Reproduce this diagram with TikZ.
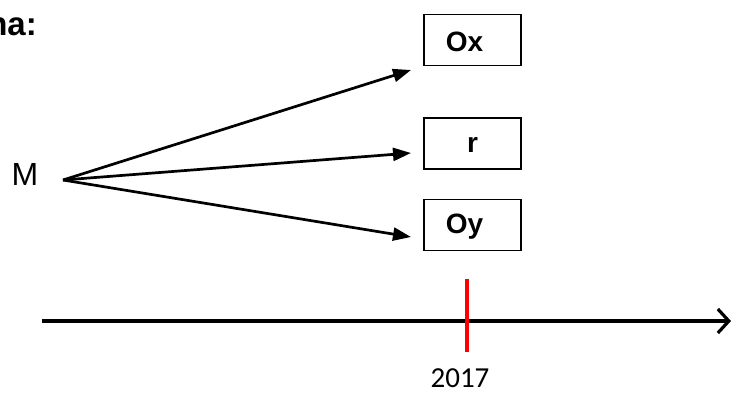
\documentclass[tikz,border=0pt]{standalone}
\usepackage{fontspec}
\setmainfont{Liberation Sans}
\newfontfamily\calib{Carlito}
\usetikzlibrary{arrows.meta}
\begin{document}
\begin{tikzpicture}[x=1pt,y=-1pt,
  lbl/.style={draw=black,line width=1.5pt,minimum width=97pt,minimum height=51pt,inner sep=0pt},
  lbltext/.style={inner sep=0pt,font=\fontsize{28}{30}\selectfont\bfseries},
  conn/.style={line width=2.7pt,-{Triangle[length=18pt,width=13pt]}},
  txt/.style={inner sep=0pt,font=\fontsize{32}{34}\selectfont}]
\useasboundingbox (0,0) rectangle (732,392);
\node[inner sep=0pt,font=\fontsize{33}{34}\selectfont\bfseries,anchor=east] (title) at (37,27) {na:};
\node[lbl] (ox) at (472.5,40) {};
\node[lbl] (r) at (472.5,143.5) {};
\node[lbl] (oy) at (472.5,225) {};
\node[lbltext] (oxt) at (464.5,42) {Ox};
\node[lbltext] (rt) at (472.5,145) {r};
\node[lbltext] (oyt) at (464.5,227) {Oy};
\node[txt] (m) at (25,174) {M};
\coordinate (mo) at (63,180);
\coordinate (t1) at (411,70);
\coordinate (t2) at (411,153);
\coordinate (t3) at (411,237);
\draw[conn] (mo) -- (t1);
\draw[conn] (mo) -- (t2);
\draw[conn] (mo) -- (t3);
\coordinate (ls) at (42,321);
\coordinate (le) at (731,321);
\draw[line width=3.2pt,-{Straight Barb[length=11pt,width=24pt,line width=3.2pt]}] (ls) -- (le);
\coordinate (k1) at (467,279);
\coordinate (k2) at (467,352);
\draw[red,line width=3.2pt] (k1) -- (k2);
\node[inner sep=0pt,font=\calib\fontsize{29}{30}\selectfont] (year) at (460,378.5) {2017};
\end{tikzpicture}
\end{document}
